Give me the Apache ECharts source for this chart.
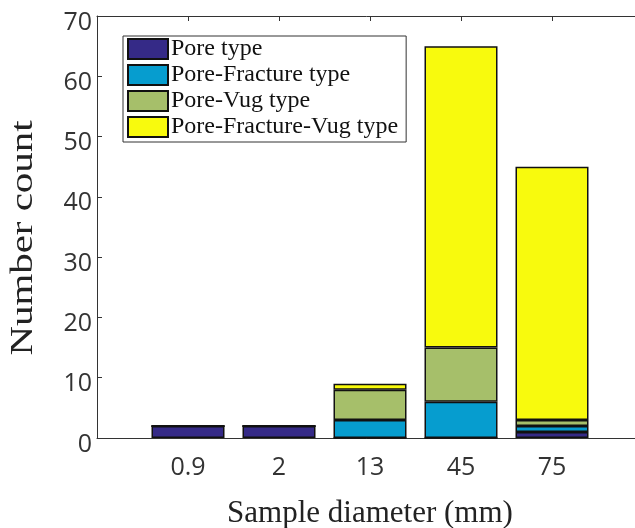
<!DOCTYPE html>
<html><head><meta charset="utf-8">
<script src="https://cdn.jsdelivr.net/npm/echarts@6/dist/echarts.min.js"></script>
<style>html,body{margin:0;padding:0;background:#fff}#c{width:635px;height:528px}</style>
</head><body><div id="c"></div>
<script>
const categories = ['0.9', '2', '13', '45', '75'];
const poreType = [2, 2, 0, 0, 1];
const poreFractureType = [0, 0, 3, 6, 1];
const poreVugType = [0, 0, 5, 9, 1];
const poreFractureVugType = [0, 0, 1, 50, 42];
const yTicks = [0, 10, 20, 30, 40, 50, 60, 70];

const axisCats = [''].concat(categories, ['']);
const pad = arr => [null].concat(arr, [null]);
const serif = 'Liberation Serif';
const lblFont = 'Open Sans';

function mk(name, data, color) {
  return {
    name, type: 'bar', stack: 's', data: pad(data), barWidth: 73,
    itemStyle: { color, borderColor: '#111', borderWidth: 1.5 },
    emphasis: { disabled: true }
  };
}

const chart = echarts.init(document.getElementById('c'), null, { renderer: 'canvas' });
chart.setOption({
  animation: false,
  grid: { left: 97, width: 546, top: 16, height: 422, containLabel: false, outerBoundsMode: 'none' },
  legend: {
    orient: 'vertical', left: 123, top: 36,
    icon: 'rect',
    itemWidth: 40, itemHeight: 20, itemGap: 2,
    padding: [1, 8, 3, 4],
    borderColor: '#333', borderWidth: 1, backgroundColor: '#fff',
    textStyle: { fontFamily: serif, fontSize: 24, lineHeight: 20, color: '#111', padding: [2, 0, 0, -2] },
    data: ['Pore type', 'Pore-Fracture type', 'Pore-Vug type', 'Pore-Fracture-Vug type']
  },
  graphic: [{
    type: 'text', x: 24, y: 238, rotation: Math.PI / 2, scaleX: 1.32,
    style: { text: 'Number count', font: '31px "Liberation Serif"', fill: '#222', textAlign: 'center', textVerticalAlign: 'middle' }
  }],
  xAxis: [{
    type: 'category', data: axisCats, boundaryGap: false,
    name: 'Sample diameter (mm)', nameLocation: 'middle', nameGap: 60,
    nameTextStyle: { fontFamily: serif, fontSize: 31, color: '#222' },
    axisLine: { lineStyle: { color: '#333', width: 1 } },
    axisTick: { inside: true, length: 5, lineStyle: { color: '#333' }, interval: (i) => i > 0 && i < axisCats.length - 1 },
    axisLabel: { fontFamily: lblFont, fontSize: 25, color: '#333', margin: 17, interval: 0 },
    splitLine: { show: false }
  }, {
    type: 'category', data: axisCats, boundaryGap: false, position: 'top',
    axisLine: { lineStyle: { color: '#333', width: 1 } },
    axisTick: { inside: true, length: 5, lineStyle: { color: '#333' }, interval: (i) => i > 0 && i < axisCats.length - 1 },
    axisLabel: { show: false }, splitLine: { show: false }
  }],
  yAxis: {
    type: 'value', min: yTicks[0], max: yTicks[yTicks.length - 1], interval: 10,
    axisLine: { show: true, lineStyle: { color: '#333', width: 1 } },
    axisTick: { show: true, inside: true, length: 5, lineStyle: { color: '#333' } },
    axisLabel: { fontFamily: lblFont, fontSize: 25, color: '#333', margin: 5, verticalAlign: 'top', lineHeight: 13 },
    splitLine: { show: false }
  },
  series: [
    mk('Pore type', poreType, '#352a87'),
    mk('Pore-Fracture type', poreFractureType, '#069dcf'),
    mk('Pore-Vug type', poreVugType, '#a6bf6a'),
    mk('Pore-Fracture-Vug type', poreFractureVugType, '#f8fa0d')
  ]
});
</script></body></html>
